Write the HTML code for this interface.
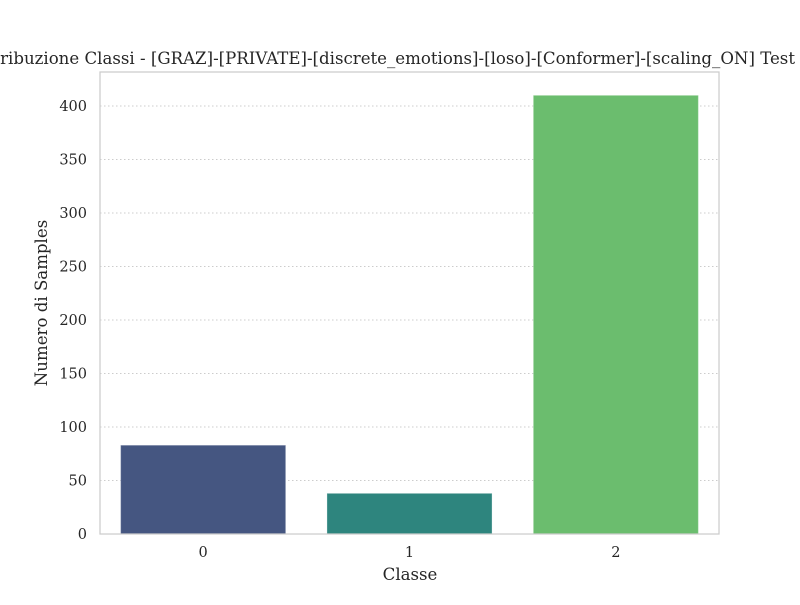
<!DOCTYPE html>
<html><head><meta charset="utf-8"><style>
body{margin:0;background:#fff;}
svg text{font-family:"DejaVu Serif","Liberation Serif",serif;fill:#262626;}
</style></head><body>
<svg id="chart" width="800" height="600" xmlns="http://www.w3.org/2000/svg">
<rect width="800" height="600" fill="#fff"/>
<text x="795" y="64" font-size="16.6" text-anchor="end">Distribuzione Classi - [GRAZ]-[PRIVATE]-[discrete_emotions]-[loso]-[Conformer]-[scaling_ON] Test</text>
<g id="grid"></g><g id="bars"></g><g id="ticks"></g>
<rect x="100" y="72" width="619" height="462" fill="none" stroke="#cccccc" stroke-width="1.25"/>
<text x="410" y="580" font-size="16.6" text-anchor="middle">Classe</text>
<text transform="translate(47,303) rotate(-90)" font-size="16.6" text-anchor="middle">Numero di Samples</text>
</svg>
<script>
const categories=["0","1","2"];
const values=[83,38,410];
const colors=["#455681","#2e857e","#6bbd6e"];
const yTicks=[0,50,100,150,200,250,300,350,400];
const NS="http://www.w3.org/2000/svg";
const x0=100,x1=719,yBase=534,pxPerUnit=1.07;
const band=(x1-x0)/categories.length;
function xc(i){return x0+band*(i+0.5);}
function y(v){return yBase-v*pxPerUnit;}
function mk(tag,attrs,parent){const e=document.createElementNS(NS,tag);for(const k in attrs)e.setAttribute(k,attrs[k]);document.getElementById(parent).appendChild(e);return e;}
yTicks.forEach(t=>{
  const l=mk('line',{x1:x0,x2:x1,y1:y(t),y2:y(t),stroke:'#cccccc','stroke-width':1,'stroke-dasharray':'1.5,2.5'},'grid');
  
  
  const tx=mk('text',{x:x0-13,y:y(t)+5,'font-size':14.5,'text-anchor':'end'},'ticks');
  tx.textContent=t;
  
  
});
categories.forEach((c,i)=>{
  const w=band*0.8;
  const r=mk('rect',{x:xc(i)-w/2,y:y(values[i]),width:w,height:values[i]*pxPerUnit,fill:colors[i],stroke:'#ffffff','stroke-opacity':0.3},'bars');
  
  
  const tx=mk('text',{x:xc(i),y:yBase+23,'font-size':14.5,'text-anchor':'middle'},'ticks');
  tx.textContent=c;
  
  
});
</script>
</body></html>
